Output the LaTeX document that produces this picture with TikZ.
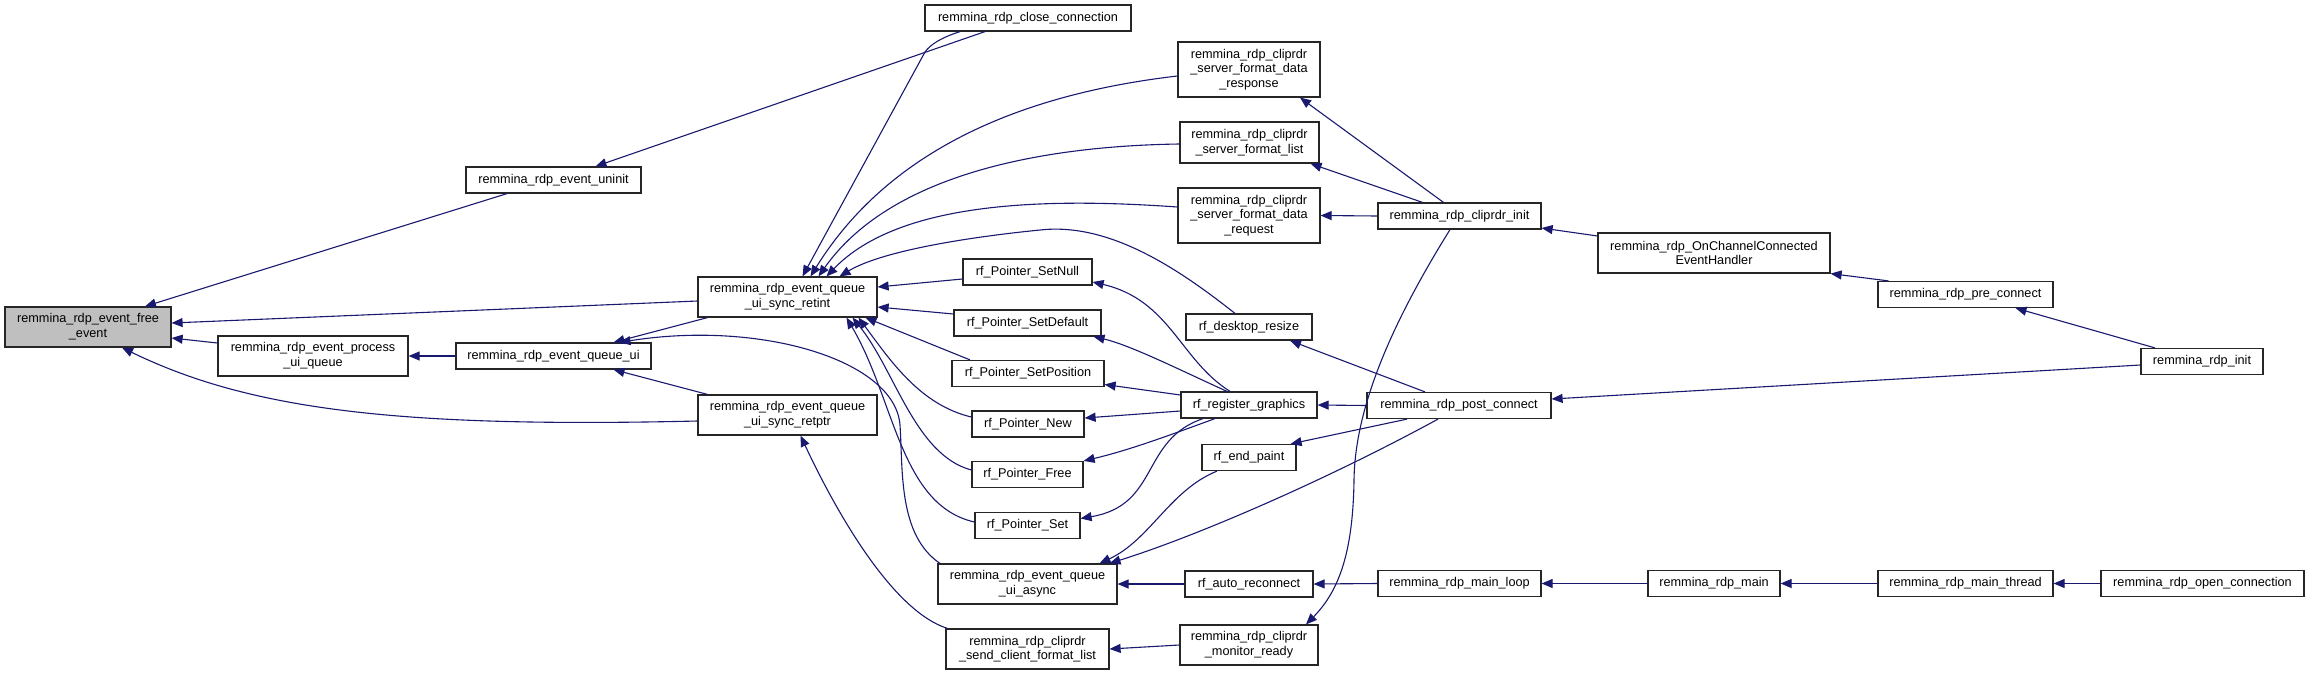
\documentclass[tikz,border=0pt]{standalone}
\usepackage{fontspec}
\setmainfont{Liberation Sans}
\usetikzlibrary{arrows.meta}
\definecolor{edgeblue}{RGB}{25,25,112}
\definecolor{rootgray}{RGB}{191,191,191}
\begin{document}
\begin{tikzpicture}[x=1pt,y=-1pt,
  fn/.style={draw=black!85, line width=1.2pt, fill=white, inner sep=0pt, align=center, font=\fontsize{12.7}{14.7}\selectfont},
  root/.style={fn, fill=rootgray},
  call/.style={draw=edgeblue, line width=1.1pt, -{Triangle[length=11pt,width=9pt]}},
]
\useasboundingbox[fill=white] (0,0) rectangle (2309,675);
% nodes
\node[root, minimum width=166pt, minimum height=40pt] (free) at (88,327) {remmina\_rdp\_event\_free\\\_event};
\node[fn, minimum width=190pt, minimum height=40pt] (procq) at (313,356) {remmina\_rdp\_event\_process\\\_ui\_queue};
\node[fn, minimum width=175pt, minimum height=26pt] (uninit) at (553.5,180) {remmina\_rdp\_event\_uninit};
\node[fn, minimum width=179pt, minimum height=40pt] (retint) at (787.5,297) {remmina\_rdp\_event\_queue\\\_ui\_sync\_retint};
\node[fn, minimum width=195pt, minimum height=26pt] (queueui) at (553.5,356) {remmina\_rdp\_event\_queue\_ui};
\node[fn, minimum width=179pt, minimum height=40pt] (retptr) at (787.5,415) {remmina\_rdp\_event\_queue\\\_ui\_sync\_retptr};
\node[fn, minimum width=206pt, minimum height=26pt] (close) at (1028,18) {remmina\_rdp\_close\_connection};
\node[fn, minimum width=142pt, minimum height=55pt] (resp) at (1249,69.5) {remmina\_rdp\_cliprdr\\\_server\_format\_data\\\_response};
\node[fn, minimum width=139pt, minimum height=41pt] (flist) at (1249.5,142.5) {remmina\_rdp\_cliprdr\\\_server\_format\_list};
\node[fn, minimum width=142pt, minimum height=55pt] (req) at (1249,215.5) {remmina\_rdp\_cliprdr\\\_server\_format\_data\\\_request};
\node[fn, minimum width=129pt, minimum height=26pt] (setnull) at (1027.5,272) {rf\_Pointer\_SetNull};
\node[fn, minimum width=147pt, minimum height=26pt] (setdef) at (1027.5,323) {rf\_Pointer\_SetDefault};
\node[fn, minimum width=126pt, minimum height=26pt] (desk) at (1249,327) {rf\_desktop\_resize};
\node[fn, minimum width=152pt, minimum height=26pt] (setpos) at (1028,373.5) {rf\_Pointer\_SetPosition};
\node[fn, minimum width=136pt, minimum height=26pt] (reggfx) at (1249,405) {rf\_register\_graphics};
\node[fn, minimum width=112pt, minimum height=26pt] (pnew) at (1028,424) {rf\_Pointer\_New};
\node[fn, minimum width=94pt, minimum height=26pt] (endpaint) at (1249,457.5) {rf\_end\_paint};
\node[fn, minimum width=111pt, minimum height=26pt] (pfree) at (1027.5,474.5) {rf\_Pointer\_Free};
\node[fn, minimum width=105pt, minimum height=26pt] (pset) at (1027.5,525.5) {rf\_Pointer\_Set};
\node[fn, minimum width=179pt, minimum height=40pt] (async) at (1027.5,584) {remmina\_rdp\_event\_queue\\\_ui\_async};
\node[fn, minimum width=128pt, minimum height=26pt] (autorec) at (1249,584) {rf\_auto\_reconnect};
\node[fn, minimum width=163pt, minimum height=40pt] (sendcfl) at (1027.5,649) {remmina\_rdp\_cliprdr\\\_send\_client\_format\_list};
\node[fn, minimum width=138pt, minimum height=40pt] (monready) at (1249,645) {remmina\_rdp\_cliprdr\\\_monitor\_ready};
\node[fn, minimum width=163pt, minimum height=26pt] (clipinit) at (1459.5,216) {remmina\_rdp\_cliprdr\_init};
\node[fn, minimum width=232pt, minimum height=40pt] (onchan) at (1714,253) {remmina\_rdp\_OnChannelConnected\\EventHandler};
\node[fn, minimum width=184pt, minimum height=26pt] (postconn) at (1459,405.5) {remmina\_rdp\_post\_connect};
\node[fn, minimum width=163pt, minimum height=26pt] (mainloop) at (1459.5,583.5) {remmina\_rdp\_main\_loop};
\node[fn, minimum width=132pt, minimum height=26pt] (rdpmain) at (1714,583.5) {remmina\_rdp\_main};
\node[fn, minimum width=175pt, minimum height=26pt] (preconn) at (1965.5,294.5) {remmina\_rdp\_pre\_connect};
\node[fn, minimum width=122pt, minimum height=26pt] (rdpinit) at (2202,361.5) {remmina\_rdp\_init};
\node[fn, minimum width=175pt, minimum height=26pt] (mainthread) at (1965.5,583.5) {remmina\_rdp\_main\_thread};
\node[fn, minimum width=203pt, minimum height=26pt] (openconn) at (2202.5,583.5) {remmina\_rdp\_open\_connection};
% edges to free_event
\draw[call] ([xshift=-46.5pt]uninit.south) -- ([xshift=57pt]free.north);
\draw[call] ([yshift=-4pt]retint.west) -- ([yshift=4pt]free.east);
\draw[call] ([yshift=13pt]procq.west) -- ([yshift=-11pt]free.east);
\draw[call] ([yshift=-6pt]retptr.west) .. controls (400,428) and (250,410) .. ([xshift=34pt]free.south);
% close_connection
\draw[call] ([xshift=-43pt]close.south) -- ([xshift=42pt]uninit.north);
\draw[call] ([xshift=-68pt]close.south) .. controls (940,38) and (930,45) .. (925,52) -- ([xshift=15pt]retint.north);
% queue_ui
\draw[call] (queueui.west) -- (procq.east);
\draw[call] ([xshift=-80pt]retint.south) -- ([xshift=60pt]queueui.north);
\draw[call] ([xshift=-80pt]retptr.north) -- ([xshift=60pt]queueui.south);
\draw[call] ([xshift=-87.5pt]async.north) .. controls (898,535) and (903,470) .. (900,425) .. controls (895,360) and (760,320) .. ([xshift=66pt]queueui.north);
\draw[call] ([xshift=-80pt]sendcfl.north) .. controls (895,612) and (840,520) .. ([xshift=13pt]retptr.south);
% callers of retint
\draw[call] ([yshift=-6.5pt]resp.west) .. controls (1040,92) and (895,140) .. ([xshift=23pt]retint.north);
\draw[call] ([yshift=-1.5pt]flist.west) .. controls (1040,146) and (890,175) .. ([xshift=31pt]retint.north);
\draw[call] ([yshift=8.5pt]req.west) .. controls (1050,198) and (900,200) .. ([xshift=39pt]retint.north);
\draw[call] ([xshift=-14pt]desk.north) .. controls (1180,270) and (1110,222) .. (1040,230) .. controls (960,238) and (880,252) .. ([xshift=52pt]retint.north);
\draw[call] ([yshift=-7pt]setnull.west) -- ([yshift=10pt]retint.east);
\draw[call] ([yshift=9pt]setdef.west) -- ([yshift=-10pt]retint.east);
\draw[call] ([xshift=-58pt]setpos.north) -- ([xshift=78pt]retint.south);
\draw[call] ([yshift=7pt]pnew.west) .. controls (920,405) and (890,360) .. ([xshift=71pt]retint.south);
\draw[call] ([yshift=4.5pt]pfree.west) .. controls (915,455) and (895,370) .. ([xshift=65pt]retint.south);
\draw[call] ([yshift=3.5pt]pset.west) .. controls (900,505) and (895,400) .. ([xshift=59pt]retint.south);
% register_graphics
\draw[call] ([xshift=-19pt]reggfx.north) .. controls (1180,360) and (1170,300) .. ([yshift=-10pt]setnull.east);
\draw[call] ([xshift=-22pt]reggfx.north) .. controls (1180,370) and (1130,345) .. ([xshift=66pt]setdef.south);
\draw[call] ([yshift=10pt]reggfx.west) -- ([yshift=-11pt]setpos.east);
\draw[call] ([yshift=-6pt]reggfx.west) -- ([yshift=6pt]pnew.east);
\draw[call] ([xshift=-34pt]reggfx.south) .. controls (1170,435) and (1130,450) .. (pfree.north east);
\draw[call] ([xshift=-46pt]reggfx.south) .. controls (1140,440) and (1160,505) .. ([yshift=7pt]pset.east);
% post_connect
\draw[call] (postconn.west) -- (reggfx.east);
\draw[call] ([xshift=-34pt]postconn.north) -- ([xshift=41pt]desk.south);
\draw[call] ([xshift=-52pt]postconn.south) -- ([xshift=-6pt]endpaint.north east);
\draw[call] ([xshift=-21pt]postconn.south) .. controls (1330,478) and (1200,535) .. ([xshift=82pt]async.north);
\draw[call] ([xshift=-32pt]endpaint.south) .. controls (1170,490) and (1150,540) .. ([xshift=72pt]async.north);
% bottom chain
\draw[call] (autorec.west) -- (async.east);
\draw[call] (mainloop.west) -- (autorec.east);
\draw[call] (rdpmain.west) -- (mainloop.east);
\draw[call] (mainthread.west) -- (rdpmain.east);
\draw[call] (openconn.west) -- (mainthread.east);
\draw[call] (monready.west) -- (sendcfl.east);
% cliprdr_init
\draw[call] ([xshift=-16pt]clipinit.north) -- ([xshift=51pt]resp.south);
\draw[call] ([xshift=-37pt]clipinit.north) -- ([xshift=61pt]flist.south);
\draw[call] (clipinit.west) -- (req.east);
\draw[call] ([xshift=-9.5pt]clipinit.south) .. controls (1400,310) and (1355,400) .. (1354,480) .. controls (1353,550) and (1340,590) .. ([xshift=57pt]monready.north);
\draw[call] ([yshift=17pt]onchan.west) -- ([yshift=-12pt]clipinit.east);
\draw[call] ([xshift=-77pt]preconn.north) -- (onchan.south east);
\draw[call] ([xshift=-47pt]rdpinit.north) -- ([xshift=50pt]preconn.south);
\draw[call] ([yshift=-3.5pt]rdpinit.west) -- ([yshift=6.5pt]postconn.east);
\end{tikzpicture}
\end{document}
